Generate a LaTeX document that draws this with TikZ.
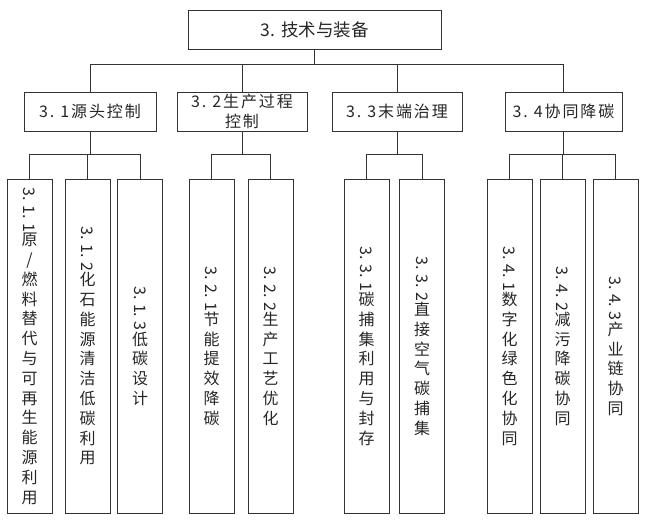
\documentclass[tikz,border=0pt]{standalone}
\usepackage{fontspec}
\usepackage{graphicx}
\setmainfont{Noto Sans CJK SC}
\newcommand{\rdig}[1]{\rotatebox{-90}{#1}}
\newcommand{\gapsp}{\hspace{6pt}}
\newcommand{\vgap}{\hspace{4.5pt}}
\begin{document}
\begin{tikzpicture}[x=1pt,y=-1pt,
  box/.style={draw=black!80, line width=1pt, inner sep=0pt, align=center, text=black!85},
  lvtwo/.style={box, minimum height=39pt, font=\fontsize{16}{20}\selectfont\addfontfeature{LetterSpace=12}},
  leaf/.style={box, minimum width=45pt, minimum height=334pt, font=\fontsize{16}{19.8}\selectfont},
  conn/.style={draw=black!80, line width=1pt}]
\useasboundingbox (0,0) rectangle (650,522);
\node[box, minimum width=253pt, minimum height=39pt, font=\fontsize{17.5}{20}\selectfont] (root) at (314.5,29.5) {3.\gapsp 技术与装备};

\node[lvtwo, minimum width=132pt] (a) at (90,111.5) {3.\gapsp 1源头控制};
\node[lvtwo, minimum width=130pt] (b) at (242,111.5) {3.\gapsp 2生产过程\\控制};
\node[lvtwo, minimum width=130pt] (c) at (397,111.5) {3.\gapsp 3末端治理};
\node[lvtwo, minimum width=117pt] (d) at (563.5,111.5) {3.\gapsp 4协同降碳};

\node[leaf] (a1) at (29.5,346) {\rdig{3.\vgap 1.\vgap 1}\\原\\/\\燃\\料\\替\\代\\与\\可\\再\\生\\能\\源\\利\\用};
\node[leaf] (a2) at (87.5,346) {\rdig{3.\vgap 1.\vgap 2}\\化\\石\\能\\源\\清\\洁\\低\\碳\\利\\用};
\node[leaf] (a3) at (140,346) {\rdig{3.\vgap 1.\vgap 3}\\低\\碳\\设\\计};
\node[leaf] (b1) at (211.5,346) {\rdig{3.\vgap 2.\vgap 1}\\节\\能\\提\\效\\降\\碳};
\node[leaf] (b2) at (270.5,346) {\rdig{3.\vgap 2.\vgap 2}\\生\\产\\工\\艺\\优\\化};
\node[leaf] (c1) at (366.5,346) {\rdig{3.\vgap 3.\vgap 1}\\碳\\捕\\集\\利\\用\\与\\封\\存};
\node[leaf] (c2) at (422,346) {\rdig{3.\vgap 3.\vgap 2}\\直\\接\\空\\气\\碳\\捕\\集};
\node[leaf] (d1) at (509.5,346) {\rdig{3.\vgap 4.\vgap 1}\\数\\字\\化\\绿\\色\\化\\协\\同};
\node[leaf] (d2) at (562.5,346) {\rdig{3.\vgap 4.\vgap 2}\\减\\污\\降\\碳\\协\\同};
\node[leaf] (d3) at (615.5,346) {\rdig{3.\vgap 4.\vgap 3}\\产\\业\\链\\协\\同};

\foreach \p in {a,b,c,d} \draw[conn] (root.south) -- ++(0,15) -| (\p.north);
\foreach \p/\q in {a/a1,a/a2,a/a3,b/b1,b/b2,c/c1,c/c2,d/d1,d/d2,d/d3}
  \draw[conn] (\p.south) -- ++(0,23) -| (\q.north);
\end{tikzpicture}
\end{document}
